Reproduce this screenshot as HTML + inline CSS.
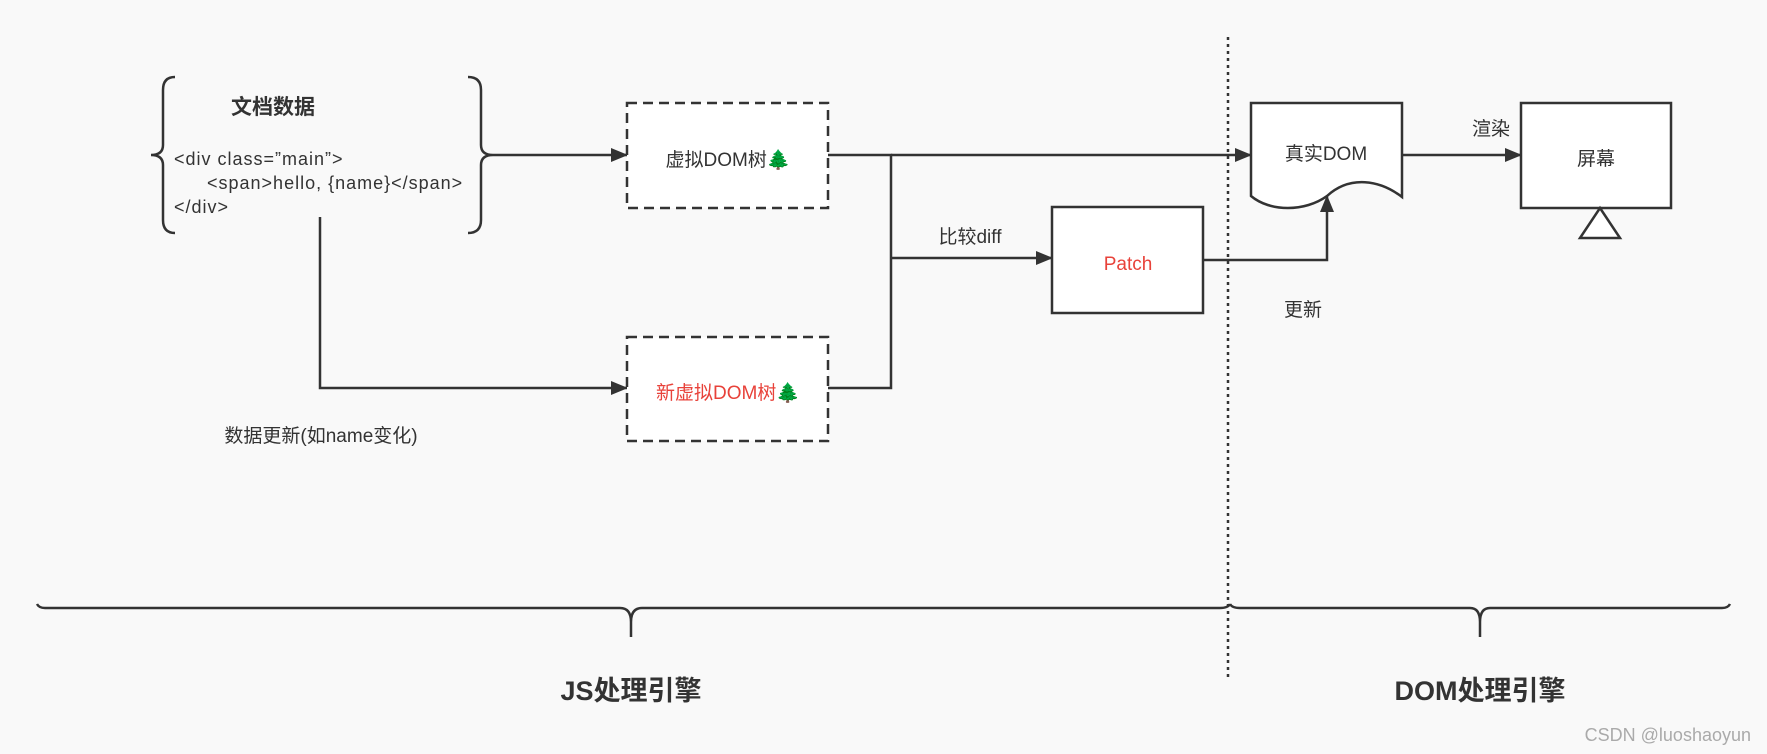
<!DOCTYPE html>
<html><head><meta charset="utf-8"><style>
html,body{margin:0;padding:0;background:#f9f9f9}
svg{display:block}
text{font-family:"Liberation Sans","Noto Sans CJK SC",sans-serif;fill:#333}
</style></head><body>
<svg width="1767" height="754" viewBox="0 0 1767 754" xmlns="http://www.w3.org/2000/svg">
<defs>
<marker id="ar" markerWidth="17" markerHeight="14" refX="16" refY="7" orient="auto" markerUnits="userSpaceOnUse">
<path d="M0,0 L17,7 L0,14 Z" fill="#333"/></marker>
</defs>
<g stroke="#333" stroke-width="2.5" fill="none">
<path d="M175,77 Q163,77 163,90 L163,145 Q163,155 151,155 Q163,155 163,165 L163,220 Q163,233 175,233"/>
<path d="M468,77 Q481,77 481,90 L481,145 Q481,155 493,155 Q481,155 481,165 L481,220 Q481,233 468,233"/>
<path d="M493,155 L627,155" marker-end="url(#ar)"/>
<path d="M320,217 L320,388 L627,388" marker-end="url(#ar)"/>
<rect x="627" y="103" width="201" height="105" fill="#fff" stroke-dasharray="10,6"/>
<rect x="627" y="337" width="201" height="104" fill="#fff" stroke-dasharray="10,6"/>
<path d="M828,155 L891,155 L891,388 L828,388"/>
<path d="M891,155 L1251,155" marker-end="url(#ar)"/>
<path d="M891,258 L1052,258" marker-end="url(#ar)"/>
<rect x="1052" y="207" width="151" height="106" fill="#fff"/>
<path d="M1203,260 L1327,260 L1327,196" marker-end="url(#ar)"/>
<path d="M1251,103 L1402,103 L1402,197 C1380,180 1350,175 1327,196 C1305,212 1270,212 1251,196 Z" fill="#fff"/>
<path d="M1402,155 L1521,155" marker-end="url(#ar)"/>
<rect x="1521" y="103" width="150" height="105" fill="#fff"/>
<path d="M1600,208 L1620,238 L1580,238 Z" fill="#fff"/>
<path d="M37,604 Q39,608 45,608 L620,608 Q631,608 631,622 L631,637 M631,637 L631,622 Q631,608 642,608 L1220,608 Q1228,608 1230,604"/>
<path d="M1230,604 Q1232,608 1240,608 L1470,608 Q1480,608 1480,622 L1480,637 M1480,622 Q1480,608 1490,608 L1722,608 Q1728,608 1730,604"/>
<path d="M1228,37 L1228,678" stroke-dasharray="3,4"/>
</g>
<text x="273" y="114" font-size="21" font-weight="bold" text-anchor="middle">文档数据</text>
<g font-size="18" letter-spacing="1">
<text x="174" y="165">&lt;div class=”main”&gt;</text>
<text x="207" y="189">&lt;span&gt;hello, {name}&lt;/span&gt;</text>
<text x="174" y="213">&lt;/div&gt;</text>
</g>
<g font-size="19">
<text x="728" y="166" text-anchor="middle">虚拟DOM树🌲</text>
<text x="728" y="399" text-anchor="middle" style="fill:#e8423a">新虚拟DOM树<tspan style="fill:#2d6a2d">🌲</tspan></text>
<text x="321" y="442" text-anchor="middle">数据更新(如name变化)</text>
<text x="970" y="243" text-anchor="middle">比较diff</text>
<text x="1128" y="270" text-anchor="middle" style="fill:#e8423a">Patch</text>
<text x="1326" y="160" text-anchor="middle">真实DOM</text>
<text x="1491" y="135" text-anchor="middle">渲染</text>
<text x="1596" y="165" text-anchor="middle">屏幕</text>
<text x="1303" y="316" text-anchor="middle">更新</text>
</g>
<text x="631" y="700" font-size="27" font-weight="bold" text-anchor="middle">JS处理引擎</text>
<text x="1480" y="700" font-size="27" font-weight="bold" text-anchor="middle">DOM处理引擎</text>
<text x="1751" y="741" font-size="18" text-anchor="end" style="fill:#aaa">CSDN @luoshaoyun</text>
</svg>
</body></html>
